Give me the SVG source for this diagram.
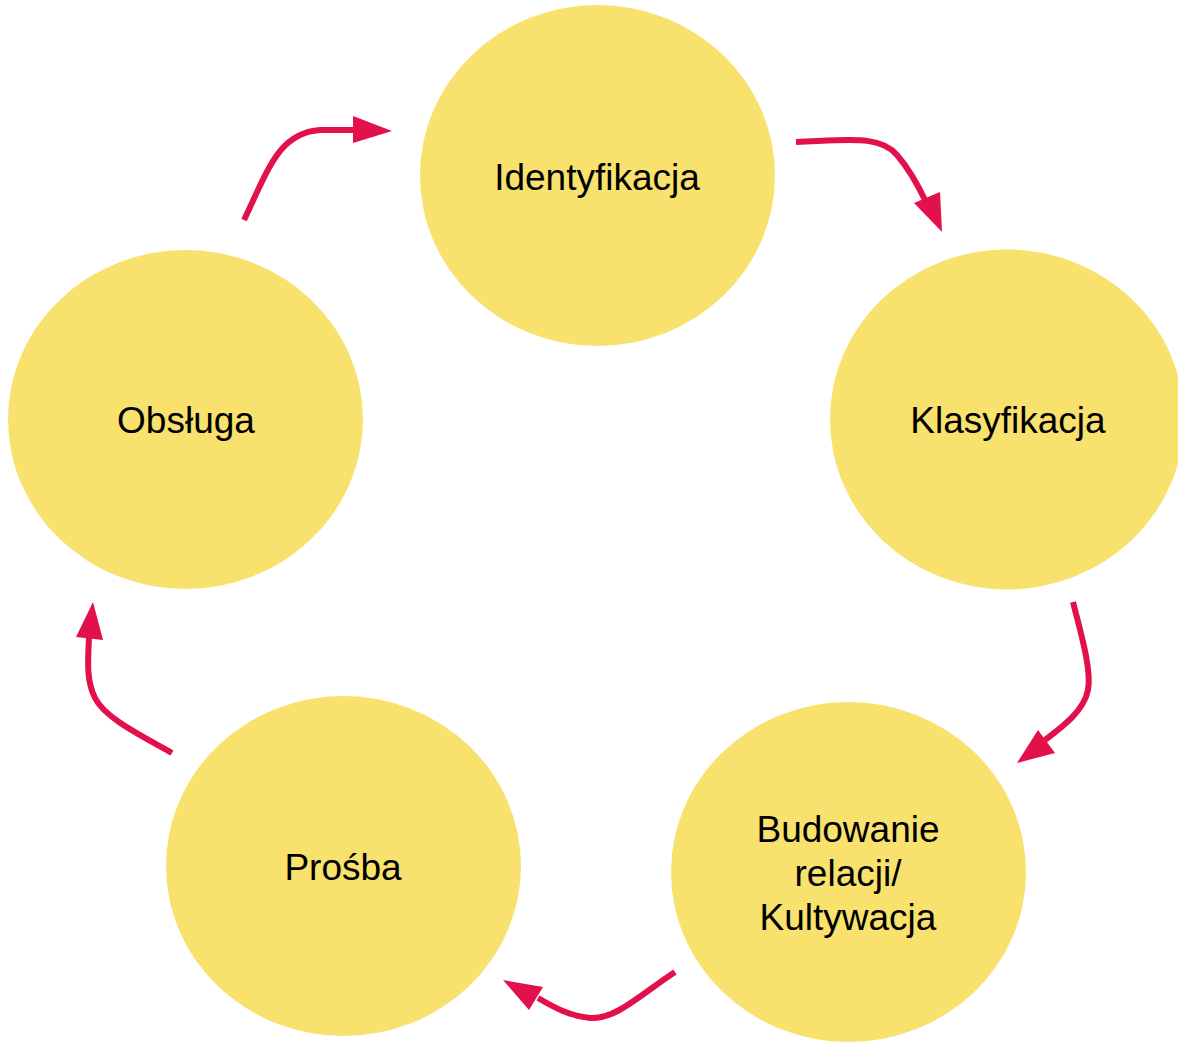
<svg xmlns="http://www.w3.org/2000/svg" width="1178" height="1044" viewBox="0 0 1178 1044">
<style>
.node{fill:#F8E16C;}
.lbl{font-family:"Liberation Sans",Arial,sans-serif;font-size:37px;fill:#000;text-anchor:middle;}
.edge{fill:none;stroke:#E2104B;stroke-width:6;}
.head{fill:#E2104B;}
</style>
<rect width="1178" height="1044" fill="#fff"/>
<g id="identyfikacja"><ellipse class="node" cx="597.5" cy="175.5" rx="177.5" ry="170.5"/><text class="lbl" x="597" y="190">Identyfikacja</text></g>
<g id="klasyfikacja"><ellipse class="node" cx="1007" cy="419.5" rx="177" ry="170"/><text class="lbl" x="1008" y="433">Klasyfikacja</text></g>
<g id="budowanie"><ellipse class="node" cx="848.5" cy="872" rx="177.5" ry="170"/><text class="lbl" x="848" y="842">Budowanie</text><text class="lbl" x="848" y="886">relacji/</text><text class="lbl" x="848" y="930">Kultywacja</text></g>
<g id="prosba"><ellipse class="node" cx="343.5" cy="866" rx="177.5" ry="170"/><text class="lbl" x="343" y="880">Prośba</text></g>
<g id="obsluga"><ellipse class="node" cx="185.5" cy="419.5" rx="177.5" ry="169.5"/><text class="lbl" x="186" y="433">Obsługa</text></g>
<g id="connectors">
<path class="edge" d="M244,220 C 270,165 280,133 320,130 L 356,130"/>
<polygon class="head" points="353,116 392,131 353,143"/>
<path class="edge" d="M796,142 C 850,140 880,135 897,155 C 910,170 918,185 926,202"/>
<polygon class="head" points="914,203 940,192 942,232"/>
<path class="edge" d="M1073,602 C 1080,630 1092,670 1088,690 C 1084,710 1065,725 1045,740"/>
<polygon class="head" points="1038,730 1055,753 1017,763"/>
<path class="edge" d="M675,972 C 640,995 615,1020 590,1018 C 570,1016 555,1008 538,998"/>
<polygon class="head" points="543,987 529,1010 503,980"/>
<path class="edge" d="M172,753 C 140,735 105,718 95,698 C 86,680 88,660 89,638"/>
<polygon class="head" points="76,637 103,640 93,602"/>
</g>
</svg>
